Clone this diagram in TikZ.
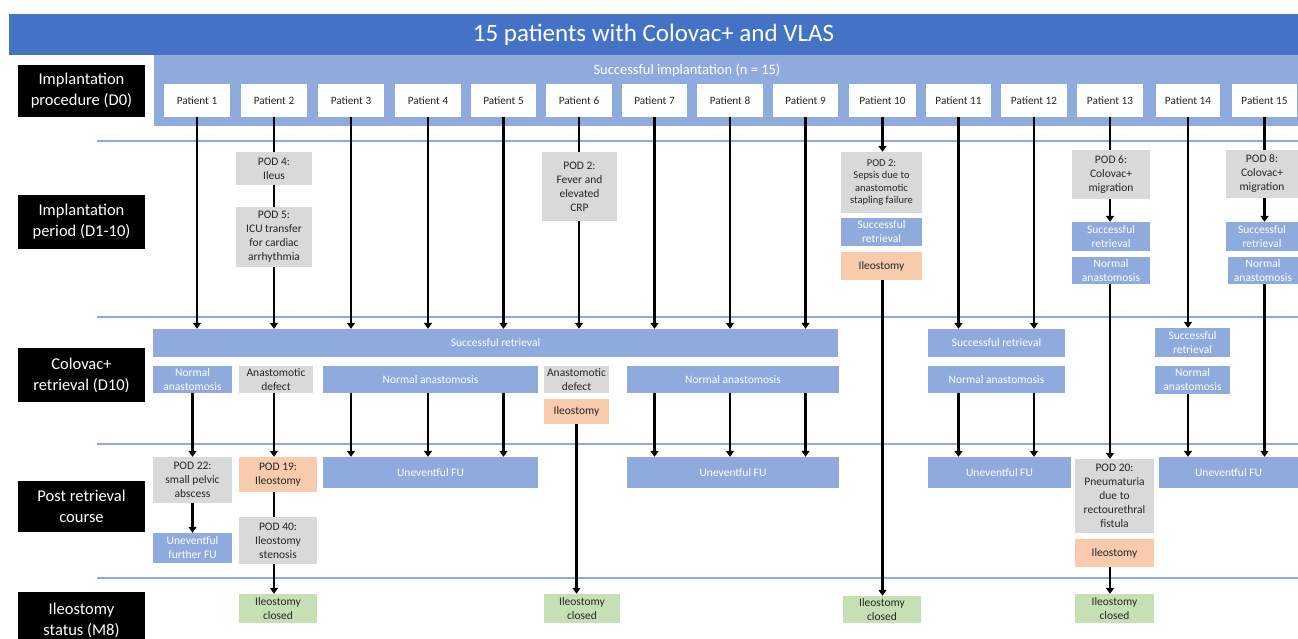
\documentclass[tikz,border=0pt]{standalone}
\usepackage{fontspec}
\setmainfont{Carlito}
\usetikzlibrary{arrows.meta}
\definecolor{banner}{HTML}{4472C4}
\definecolor{lblue}{HTML}{8FAADC}
\definecolor{gbg}{HTML}{D9D9D9}
\definecolor{obg}{HTML}{F8CBAD}
\definecolor{grbg}{HTML}{C5E0B4}
\definecolor{txt}{HTML}{262626}
\newcommand\bx[7]{\node[#2, minimum width={(#5)-(#3)}, minimum height={(#6)-(#4)}] (#1) at ({((#3)+(#5))/2},{((#4)+(#6))/2}) {#7};}
\tikzset{
 bxbase/.style={inner sep=0pt, align=center, font=\fontsize{11.5}{14}\selectfont, text=txt},
 lab/.style={bxbase, fill=black, text=white, font=\fontsize{16.5}{21}\selectfont},
 pat/.style={bxbase, fill=white, font=\fontsize{11.2}{13}\selectfont},
 gb/.style={bxbase, fill=gbg},
 bb/.style={bxbase, fill=lblue, text=white},
 ob/.style={bxbase, fill=obg},
 grb/.style={bxbase, fill=grbg},
 sepline/.style={draw=lblue, line width=1.2pt},
 arr/.style={line width=2.2pt, -{Triangle[length=6pt,width=8pt]}},
 con/.style={line width=2.2pt},
}
\begin{document}
\begin{tikzpicture}[x=1pt,y=-1pt]
\useasboundingbox (0,0) rectangle (1298,638);
% banner and band
\bx{banner}{bxbase, fill=banner, text=white, font=\fontsize{25}{30}\selectfont}{9}{14}{1298}{55}{15 patients with Colovac+ and VLAS}
\fill[lblue] (154,55) rectangle (1298,126);
\node[text=white, font=\fontsize{14.5}{17}\selectfont, inner sep=0pt] (implant) at (687,70) {Successful implantation (n = 15)};
% separator lines
\draw[sepline] (97,141) -- (1298,141);
\draw[sepline] (97,317) -- (1298,317);
\draw[sepline] (97,444) -- (1298,444);
\draw[sepline] (97,578) -- (1298,578);
% row labels
\bx{l1}{lab}{18}{65}{145}{117}{Implantation\\procedure (D0)}
\bx{l2}{lab}{18}{195}{145}{249}{Implantation\\period (D1-10)}
\bx{l3}{lab}{18}{348}{145}{402}{Colovac+\\retrieval (D10)}
\bx{l4}{lab}{18}{481}{145}{532}{Post retrieval\\course}
\bx{l5}{lab}{18}{592}{145}{648}{Ileostomy\\status (M8)}
% patients
\bx{p1}{pat}{164}{84}{230}{117}{Patient 1}
\bx{p2}{pat}{241}{84}{307}{117}{Patient 2}
\bx{p3}{pat}{318}{84}{384}{117}{Patient 3}
\bx{p4}{pat}{395}{84}{461}{117}{Patient 4}
\bx{p5}{pat}{471}{84}{536}{117}{Patient 5}
\bx{p6}{pat}{546}{84}{612}{117}{Patient 6}
\bx{p7}{pat}{622}{84}{687}{117}{Patient 7}
\bx{p8}{pat}{697}{84}{763}{117}{Patient 8}
\bx{p9}{pat}{773}{84}{838}{117}{Patient 9}
\bx{p10}{pat}{849}{84}{916}{117}{Patient 10}
\bx{p11}{pat}{926}{84}{991}{117}{Patient 11}
\bx{p12}{pat}{1001}{84}{1067}{117}{Patient 12}
\bx{p13}{pat}{1077}{84}{1143}{117}{Patient 13}
\bx{p14}{pat}{1156}{84}{1220}{117}{Patient 14}
\bx{p15}{pat}{1232}{84}{1297}{117}{Patient 15}
% implantation period
\bx{pod4}{gb}{236}{152}{312}{185}{POD 4:\\Ileus}
\bx{pod5}{gb}{236}{207}{312}{267}{POD 5:\\ICU transfer\\for cardiac\\arrhythmia}
\bx{pod2a}{gb}{542}{152}{617}{221}{POD 2:\\Fever and\\elevated\\CRP}
\bx{pod2b}{gb, font=\fontsize{10.5}{12.5}\selectfont}{841}{152}{922}{213}{POD 2:\\Sepsis due to\\anastomotic\\stapling failure}
\bx{sr10}{bb}{841}{218}{922}{246}{Successful\\retrieval}
\bx{ileo10}{ob}{841}{252}{922}{280}{Ileostomy}
\bx{pod6}{gb}{1072}{150}{1150}{199}{POD 6:\\Colovac+\\migration}
\bx{sr13}{bb}{1072}{222}{1150}{251}{Successful\\retrieval}
\bx{na13}{bb}{1072}{257}{1150}{284}{Normal\\anastomosis}
\bx{pod8}{gb}{1226}{150}{1298}{198}{POD 8:\\Colovac+\\migration}
\bx{sr15}{bb}{1226}{222}{1298}{251}{Successful\\retrieval}
\bx{na15}{bb}{1228}{257}{1298}{284}{Normal\\anastomosis}
% retrieval
\bx{srA}{bb}{153}{329}{838}{357}{Successful retrieval}
\bx{na1}{bb}{153}{366}{232}{393}{Normal\\anastomosis}
\bx{ad2}{gb}{239}{366}{313}{393}{Anastomotic\\defect}
\bx{na345}{bb}{323}{366}{538}{393}{Normal anastomosis}
\bx{ad6}{gb}{544}{366}{609}{393}{Anastomotic\\defect}
\bx{ileo6}{ob}{544}{399}{609}{424}{Ileostomy}
\bx{na789}{bb}{627}{366}{839}{393}{Normal anastomosis}
\bx{sr1112}{bb}{928}{329}{1065}{357}{Successful retrieval}
\bx{na1112}{bb}{928}{366}{1065}{393}{Normal anastomosis}
\bx{sr14}{bb}{1155}{328}{1230}{357}{Successful\\retrieval}
\bx{na14}{bb}{1155}{366}{1230}{394}{Normal\\anastomosis}
% post retrieval
\bx{pod22}{gb}{153}{457}{232}{503}{POD 22:\\small pelvic\\abscess}
\bx{uff1}{bb}{153}{533}{232}{563}{Uneventful\\further FU}
\bx{pod19}{ob}{239}{457}{317}{492}{POD 19:\\Ileostomy}
\bx{pod40}{gb}{239}{517}{317}{564}{POD 40:\\Ileostomy\\stenosis}
\bx{ufu345}{bb}{323}{457}{538}{488}{Uneventful FU}
\bx{ufu789}{bb}{627}{457}{839}{488}{Uneventful FU}
\bx{ufu1112}{bb}{928}{457}{1071}{488}{Uneventful FU}
\bx{pod20}{gb}{1075}{459}{1154}{533}{POD 20:\\Pneumaturia\\due to\\rectourethral\\fistula}
\bx{ileo13}{ob}{1075}{539}{1154}{567}{Ileostomy}
\bx{ufu1415}{bb}{1159}{457}{1298}{488}{Uneventful FU}
% ileostomy status
\bx{ic2}{grb}{239}{594}{317}{623}{Ileostomy\\closed}
\bx{ic6}{grb}{544}{594}{620}{623}{Ileostomy\\closed}
\bx{ic10}{grb}{843}{596}{921}{623}{Ileostomy\\closed}
\bx{ic13}{grb}{1075}{594}{1154}{623}{Ileostomy\\closed}
% connectors
% patient 1
\draw[arr] (p1.south) -- (p1.south |- srA.north);
\draw[arr] (na1.south) -- (pod22.north);
\draw[arr] (pod22.south) -- (uff1.north);
% patient 2
\draw[con] (p2.south) -- (p2.south |- pod4.north);
\draw[con] (p2.south |- pod4.south) -- (p2.south |- pod5.north);
\draw[arr] (p2.south |- pod5.south) -- (p2.south |- srA.north);
\draw[arr] (p2.south |- ad2.south) -- (p2.south |- pod19.north);
\draw[con] (p2.south |- pod19.south) -- (p2.south |- pod40.north);
\draw[arr] (p2.south |- pod40.south) -- (p2.south |- ic2.north);
% patients 3-5
\foreach \p in {p3,p4,p5}{
 \draw[arr] (\p.south) -- (\p.south |- srA.north);
 \draw[arr] (\p.south |- na345.south) -- (\p.south |- ufu345.north);
}
% patient 6
\draw[con] (p6.south) -- (p6.south |- pod2a.north);
\draw[arr] (p6.south |- pod2a.south) -- (p6.south |- srA.north);
\draw[arr] (ileo6.south) -- (ileo6.south |- ic6.north);
% patients 7-9
\foreach \p in {p7,p8,p9}{
 \draw[arr] (\p.south) -- (\p.south |- srA.north);
 \draw[arr] (\p.south |- na789.south) -- (\p.south |- ufu789.north);
}
% patient 10
\draw[arr] (p10.south) -- (p10.south |- pod2b.north);
\draw[arr] (p10.south |- ileo10.south) -- (p10.south |- ic10.north);
% patients 11-12
\foreach \p in {p11,p12}{
 \draw[arr] (\p.south) -- (\p.south |- sr1112.north);
 \draw[arr] (\p.south |- na1112.south) -- (\p.south |- ufu1112.north);
}
% patient 13
\draw[con] (p13.south) -- (p13.south |- pod6.north);
\draw[arr] (p13.south |- pod6.south) -- (p13.south |- sr13.north);
\draw[arr] (p13.south |- na13.south) -- (p13.south |- pod20.north);
\draw[arr] (p13.south |- ileo13.south) -- (p13.south |- ic13.north);
% patient 14
\draw[arr] (p14.south) -- (p14.south |- sr14.north);
\draw[arr] (p14.south |- na14.south) -- (p14.south |- ufu1415.north);
% patient 15
\draw[con] (p15.south) -- (p15.south |- pod8.north);
\draw[arr] (p15.south |- pod8.south) -- (p15.south |- sr15.north);
\draw[arr] (p15.south |- na15.south) -- (p15.south |- ufu1415.north);
\end{tikzpicture}
\end{document}
